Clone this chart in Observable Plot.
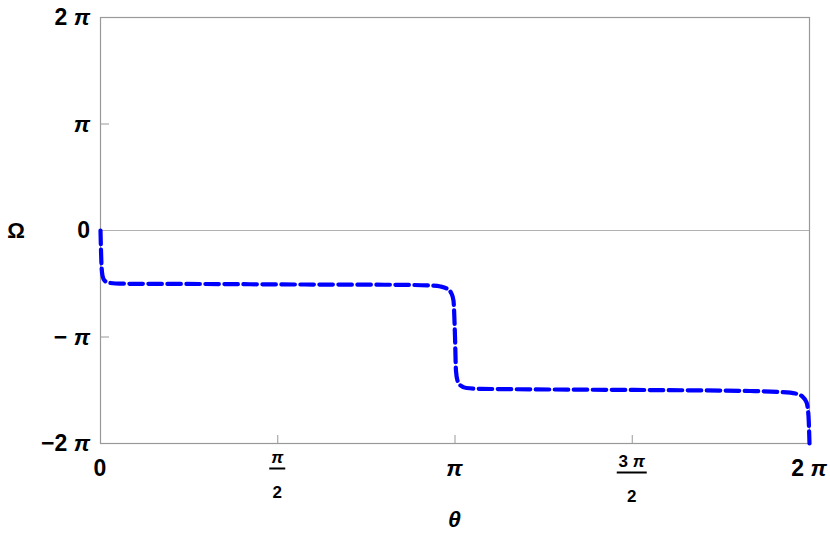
<!DOCTYPE html>
<html>
<head>
<meta charset="utf-8">
<script src="https://cdn.jsdelivr.net/npm/d3@7"></script>
<script src="https://cdn.jsdelivr.net/npm/@observablehq/plot@0.6"></script>
<style>
  html, body { margin: 0; padding: 0; background: #fff; }
  svg { display: block; }
</style>
</head>
<body>
<div id="chart"></div>
<script>
const PI = Math.PI;

// curve samples (theta, Omega)
const theta = [0, 0.0044, 0.0089, 0.0177, 0.0354, 0.0709, 0.133, 0.266, 0.886, 1.772, 2.659, 2.924, 3.013, 3.075, 3.110, 3.128, 3.1416, 3.150, 3.163, 3.190, 3.243, 3.367, 3.988, 4.874, 5.760, 6.026, 6.159, 6.221, 6.257, 6.274, 6.2832];
const omega = [0, -0.59, -1.03, -1.33, -1.475, -1.534, -1.563, -1.572, -1.578, -1.593, -1.602, -1.622, -1.652, -1.726, -1.858, -2.065, -3.127, -4.13, -4.42, -4.57, -4.646, -4.67, -4.69, -4.706, -4.735, -4.765, -4.81, -4.90, -5.07, -5.46, -6.2832];

// ticks
const yTickValues = [-2 * PI, -PI, 0, PI, 2 * PI];
const yTickLabels = [["−2 ", "π"], ["− ", "π"], ["0", ""], ["", "π"], ["2 ", "π"]];
const xTickValues = [0, PI / 2, PI, 3 * PI / 2, 2 * PI];
const xTickLabels = [["0", ""], null, ["", "π"], null, ["2 ", "π"]];
const xFractions = [null, ["π", "2"], null, ["3 π", "2"], null];
const innerTicksY = [-PI, PI];
const innerTicksX = [PI / 2, PI, 3 * PI / 2];

const xLabel = "θ";
const yLabel = "Ω";

const data = theta.map((t, i) => ({theta: t, omega: omega[i]}));

const plot = Plot.plot({
  width: 830,
  height: 556,
  marginLeft: 100,
  marginRight: 21,
  marginTop: 17,
  marginBottom: 113,
  style: {background: "#fff", overflow: "visible"},
  x: {domain: [0, 2 * PI], axis: null},
  y: {domain: [-2 * PI, 2 * PI], axis: null},
  marks: [
    Plot.ruleY([0], {stroke: "#b0b0b0", strokeWidth: 1}),
    Plot.tickY(innerTicksY, {y: d => d, stroke: "#999", strokeWidth: 1, insetRight: 700}),
    Plot.tickX(innerTicksX, {x: d => d, stroke: "#999", strokeWidth: 1, insetTop: 418}),
    Plot.frame({stroke: "#999", strokeWidth: 1.2}),
    Plot.line(data, {x: "theta", y: "omega", stroke: "#0000ff", strokeWidth: 4.2, strokeDasharray: "13.5,5.5", curve: "monotone-x"})
  ]
});

document.getElementById("chart").appendChild(plot);

const sx = plot.scale("x"), sy = plot.scale("y");
const svg = d3.select(plot);
const font = "'Liberation Sans', Arial, sans-serif";
const g = svg.append("g").attr("font-family", font).attr("font-weight", "bold").attr("fill", "#000");

function richText(sel, parts) {
  if (parts[0]) sel.append("tspan").text(parts[0]);
  if (parts[1]) sel.append("tspan").attr("font-style", "italic").text(parts[1]);
}

// y tick labels
yTickValues.forEach((v, i) => {
  const t = g.append("text")
    .attr("x", sx.apply(0) - 10)
    .attr("y", sy.apply(v))
    .attr("dy", "0.36em")
    .attr("text-anchor", "end")
    .attr("font-size", 23);
  richText(t, yTickLabels[i]);
});

// x tick labels
xTickValues.forEach((v, i) => {
  const x = sx.apply(v);
  if (xTickLabels[i]) {
    const t = g.append("text")
      .attr("x", x)
      .attr("y", 476)
      .attr("text-anchor", "middle")
      .attr("font-size", 23);
    richText(t, xTickLabels[i]);
  }
  if (xFractions[i]) {
    const [num, den] = xFractions[i];
    const hasDigit = /\d/.test(num);
    const top = hasDigit ? 4 : 0;
    const nt = g.append("text")
      .attr("x", x)
      .attr("y", 463 + top)
      .attr("text-anchor", "middle")
      .attr("font-size", 17);
    if (hasDigit) { nt.append("tspan").text(num.split(" ")[0] + " "); nt.append("tspan").attr("font-style", "italic").text("π"); }
    else nt.append("tspan").attr("font-style", "italic").text(num);
    const w = hasDigit ? 30 : 16;
    g.append("line")
      .attr("x1", x - w / 2).attr("x2", x + w / 2)
      .attr("y1", 468.5 + top).attr("y2", 468.5 + top)
      .attr("stroke", "#000").attr("stroke-width", 2);
    g.append("text")
      .attr("x", x)
      .attr("y", 498 + top)
      .attr("text-anchor", "middle")
      .attr("font-size", 17)
      .text(den);
  }
});

// axis labels
g.append("text")
  .attr("x", 16).attr("y", sy.apply(0)).attr("dy", "0.36em")
  .attr("text-anchor", "middle").attr("font-size", 22)
  .text(yLabel);
g.append("text")
  .attr("x", sx.apply(PI)).attr("y", 527)
  .attr("text-anchor", "middle").attr("font-size", 23).attr("font-style", "italic")
  .text(xLabel);
</script>
</body>
</html>
